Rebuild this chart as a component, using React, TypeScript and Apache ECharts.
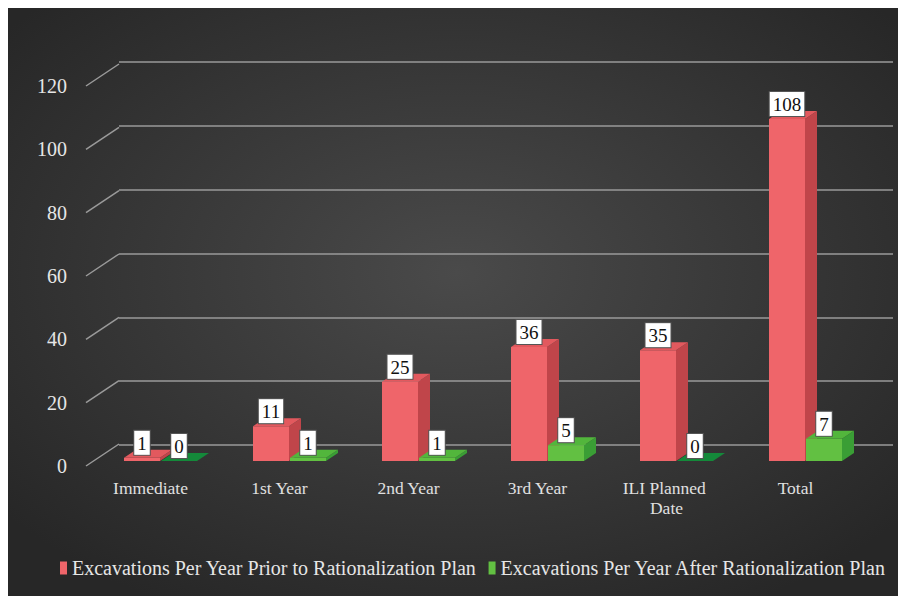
import React, { useEffect, useRef } from "react";
import * as echarts from "echarts";

const categories = ["Immediate", "1st Year", "2nd Year", "3rd Year", "ILI Planned Date", "Total"];
const priorValues = [1, 11, 25, 36, 35, 108];
const afterValues = [0, 1, 1, 5, 0, 7];
const seriesNames = [
  "Excavations Per Year Prior to Rationalization Plan",
  "Excavations Per Year After Rationalization Plan",
];
const yTicks = [0, 20, 40, 60, 80, 100, 120];

const FONT = "Liberation Serif";

const palettes = [
  { front: "#EF656A", side: "#C0454A", top: "#E2595E", zeroTop: "#E8646A" },
  { front: "#62C042", side: "#3A9E35", top: "#52B63C", zeroTop: "#14893A" },
];

function barSeries(name: string, values: number[], idx: number) {
  const pal = palettes[idx];
  return {
    type: "custom",
    name,
    xAxisIndex: 1,
    yAxisIndex: 1,
    itemStyle: { color: pal.front },
    data: values.map((v, i) => [i, v]),
    encode: { x: 0, y: 1 },
    renderItem: (params: any, api: any) => {
      const ci = api.value(0);
      const v = api.value(1);
      const base = api.coord([ci, 0]);
      const top = api.coord([ci, v]);
      const cx = base[0];
      const w = 36;
      const x0 = idx === 0 ? cx - 36.5 : cx + 0.5;
      const x1 = x0 + w;
      const yb = base[1];
      const yt = top[1];
      const dx = 12;
      const dy = 8;
      const children: any[] = [];
      if (v > 0) {
        children.push({
          type: "polygon",
          shape: { points: [[x1, yt], [x1 + dx, yt - dy], [x1 + dx, yb - dy], [x1, yb]] },
          style: { fill: pal.side },
        });
        children.push({
          type: "rect",
          shape: { x: x0, y: yt, width: w, height: yb - yt },
          style: { fill: pal.front },
        });
      }
      children.push({
        type: "polygon",
        shape: { points: [[x0, yt], [x1, yt], [x1 + dx, yt - dy], [x0 + dx, yt - dy]] },
        style: { fill: v > 0 ? pal.top : pal.zeroTop },
      });
      children.push({
        type: "text",
        x: (x0 + x1) / 2,
        y: yt - 3,
        z2: 10,
        style: {
          text: String(v),
          fill: "#111",
          fontSize: 19,
          fontFamily: FONT,
          align: "center",
          verticalAlign: "bottom",
          backgroundColor: "#ffffff",
          borderColor: "#555",
          borderWidth: 1,
          padding: [3, 3, 2, 3],
        },
      });
      return { type: "group", children };
    },
  };
}

export default function App() {
  const ref = useRef<HTMLDivElement>(null);
  useEffect(() => {
    if (!ref.current) return;
    const chart = echarts.init(ref.current, undefined, { renderer: "svg" });
    const hiddenAxis = { show: false };
    chart.setOption({
      animation: false,
      textStyle: { fontFamily: FONT },
      backgroundColor: {
        type: "radial",
        x: 0.5,
        y: 0.45,
        r: 0.65,
        colorStops: [
          { offset: 0, color: "#4a4a4a" },
          { offset: 1, color: "#272727" },
        ],
      },
      legend: {
        left: 52,
        top: 550,
        padding: 0,
        itemWidth: 7,
        itemHeight: 13,
        itemGap: 12,
        icon: "rect",
        data: seriesNames,
        textStyle: { color: "#e6e6e6", fontSize: 20, fontFamily: FONT },
      },
      grid: [
        { left: 78, right: 46, top: 78, bottom: 130 },
        { left: 88, right: 36, top: 73, bottom: 135 },
        { left: 111, right: 13, top: 54, bottom: 151 },
      ],
      xAxis: [
        {
          type: "category",
          gridIndex: 0,
          data: categories,
          axisLine: { show: false },
          axisTick: { show: false },
          axisLabel: {
            interval: 0,
            color: "#e0e0e0",
            fontSize: 17.5,
            fontFamily: FONT,
            margin: 12,
            width: 110,
            overflow: "break",
            lineHeight: 20,
          },
        },
        { type: "category", gridIndex: 1, data: categories, ...hiddenAxis },
        { type: "category", gridIndex: 2, data: categories, ...hiddenAxis },
      ],
      yAxis: [
        {
          type: "value",
          gridIndex: 0,
          min: 0,
          max: 120,
          interval: 20,
          axisLine: { show: false },
          axisTick: { show: false },
          splitLine: { show: false },
          axisLabel: { color: "#e6e6e6", fontSize: 20, fontFamily: FONT, margin: 19 },
        },
        { type: "value", gridIndex: 1, min: 0, max: 120, interval: 20, ...hiddenAxis },
        {
          type: "value",
          gridIndex: 2,
          min: 0,
          max: 120,
          interval: 20,
          axisLine: { show: false },
          axisTick: { show: false },
          axisLabel: { show: false },
          splitLine: { show: true, lineStyle: { color: "#9a9a9a", width: 1.5 } },
        },
      ],
      series: [
        {
          type: "custom",
          xAxisIndex: 0,
          yAxisIndex: 0,
          silent: true,
          data: yTicks.map((t) => [0, t]),
          encode: { x: 0, y: 1 },
          renderItem: (params: any, api: any) => {
            const p = api.coord([0, api.value(1)]);
            const x = params.coordSys.x;
            return {
              type: "line",
              shape: { x1: x, y1: p[1], x2: x + 33, y2: p[1] - 22 },
              style: { stroke: "#9a9a9a", lineWidth: 1.5 },
            };
          },
        },
        barSeries(seriesNames[0], priorValues, 0),
        barSeries(seriesNames[1], afterValues, 1),
      ],
    });
    return () => chart.dispose();
  }, []);
  return <div ref={ref} style={{ width: 898, height: 588 }} />;
}
